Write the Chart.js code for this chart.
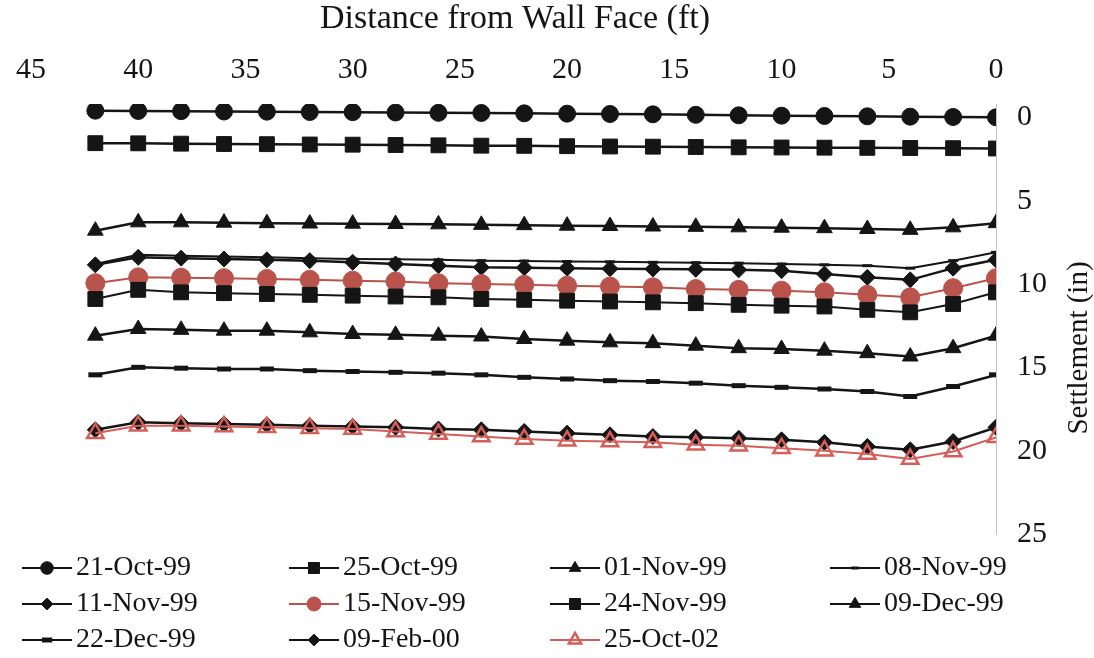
<!DOCTYPE html>
<html>
<head>
<meta charset="utf-8">
<script src="https://cdn.jsdelivr.net/npm/chart.js@4.4.1/dist/chart.umd.min.js"></script>
<style>
  html, body { margin: 0; padding: 0; background: #fff; }
  #wrap { width: 1094px; height: 658px; }
</style>
</head>
<body>
<div id="wrap"><canvas id="settlementChart" width="1094" height="658"></canvas></div>
<script>
// Settlement profiles behind the wall face, one line per survey date
const distance = [42, 40, 38, 36, 34, 32, 30, 28, 26, 24, 22, 20, 18, 16, 14, 12, 10, 8, 6, 4, 2, 0];
const surveyDates = ['21-Oct-99', '25-Oct-99', '01-Nov-99', '08-Nov-99', '11-Nov-99', '15-Nov-99',
                     '24-Nov-99', '09-Dec-99', '22-Dec-99', '09-Feb-00', '25-Oct-02'];

const oct21_99 = [-0.4, -0.38, -0.37, -0.35, -0.34, -0.32, -0.31, -0.29, -0.27, -0.26, -0.24, -0.22, -0.2, -0.18, -0.15, -0.12, -0.1, -0.08, -0.06, -0.04, -0.02, 0];
const oct25_99 = [1.55, 1.56, 1.58, 1.6, 1.61, 1.63, 1.64, 1.66, 1.68, 1.7, 1.71, 1.73, 1.75, 1.76, 1.78, 1.8, 1.81, 1.82, 1.83, 1.84, 1.85, 1.87];
const nov01_99 = [6.8, 6.3, 6.3, 6.32, 6.35, 6.37, 6.38, 6.4, 6.42, 6.45, 6.47, 6.5, 6.52, 6.55, 6.57, 6.6, 6.62, 6.65, 6.7, 6.75, 6.6, 6.35];
const nov08_99 = [8.8, 8.25, 8.3, 8.35, 8.4, 8.45, 8.5, 8.52, 8.55, 8.6, 8.62, 8.65, 8.67, 8.7, 8.72, 8.75, 8.8, 8.85, 8.9, 9.05, 8.6, 8.1];
const nov11_99 = [8.85, 8.4, 8.45, 8.5, 8.55, 8.6, 8.7, 8.8, 8.9, 9.0, 9.02, 9.05, 9.08, 9.1, 9.12, 9.15, 9.2, 9.4, 9.6, 9.75, 9.05, 8.55];
const nov15_99 = [9.95, 9.6, 9.62, 9.65, 9.7, 9.75, 9.8, 9.85, 9.95, 10.0, 10.05, 10.1, 10.15, 10.2, 10.3, 10.35, 10.4, 10.5, 10.65, 10.8, 10.25, 9.65];
const nov24_99 = [10.9, 10.35, 10.5, 10.55, 10.6, 10.65, 10.7, 10.75, 10.8, 10.9, 10.95, 11.0, 11.05, 11.1, 11.15, 11.25, 11.3, 11.35, 11.55, 11.7, 11.2, 10.5];
const dec09_99 = [13.1, 12.7, 12.75, 12.8, 12.8, 12.9, 13.0, 13.05, 13.1, 13.15, 13.3, 13.4, 13.5, 13.55, 13.7, 13.85, 13.9, 14.0, 14.15, 14.35, 13.85, 13.1];
const dec22_99 = [15.45, 15.0, 15.05, 15.1, 15.1, 15.2, 15.25, 15.3, 15.35, 15.45, 15.6, 15.7, 15.8, 15.85, 15.95, 16.1, 16.2, 16.3, 16.45, 16.75, 16.15, 15.45];
const feb09_00 = [18.75, 18.3, 18.35, 18.4, 18.45, 18.5, 18.55, 18.6, 18.7, 18.75, 18.85, 18.95, 19.05, 19.15, 19.2, 19.25, 19.35, 19.5, 19.75, 19.95, 19.45, 18.6];
const oct25_02 = [18.95, 18.5, 18.5, 18.55, 18.6, 18.65, 18.7, 18.85, 19.0, 19.15, 19.3, 19.4, 19.45, 19.5, 19.65, 19.7, 19.85, 20.0, 20.2, 20.5, 20.05, 19.2];

const settlementTicks = [0, 5, 10, 15, 20, 25];

const seriesValues = [oct21_99, oct25_99, nov01_99, nov08_99, nov11_99, nov15_99,
                      nov24_99, dec09_99, dec22_99, feb09_00, oct25_02];

const BLACK = '#151515';
const RED = '#b9534c';
const RED_OPEN = '#d45e58';
const FONT = '"Liberation Serif", "Times New Roman", serif';

// marker look for each date, same order as surveyDates
const markers = [
  { style: 'circle',   r: 8.5, line: BLACK, fill: BLACK, bw: 1, lw: 2.5 },
  { style: 'rect',     r: 10.5, line: BLACK, fill: BLACK, bw: 1, lw: 2.5 },
  { style: 'triangle', r: 9,   line: BLACK, fill: BLACK, bw: 1, lw: 2.5 },
  { style: 'line',     r: 5,   line: BLACK, fill: BLACK, bw: 3, lw: 2 },
  { style: 'rectRot',  r: 8,   line: BLACK, fill: BLACK, bw: 1, lw: 2.5 },
  { style: 'circle',   r: 9.5, line: RED,   fill: RED,   bw: 1, lw: 2 },
  { style: 'rect',     r: 10.5, line: BLACK, fill: BLACK, bw: 1, lw: 2 },
  { style: 'triangle', r: 9,   line: BLACK, fill: BLACK, bw: 1, lw: 2.5 },
  { style: 'line',     r: 7,   line: BLACK, fill: BLACK, bw: 5, lw: 2.5 },
  { style: 'rectRot',  r: 8,   line: BLACK, fill: BLACK, bw: 1, lw: 2.5 },
  { style: 'triangle', r: 9.5, line: RED_OPEN, fill: 'rgba(255,255,255,0)', bw: 2.5, lw: 2 }
];

// later survey dates are drawn on top of earlier ones
const datasets = surveyDates.map((label, i) => ({
  label: label,
  data: distance.map((d, j) => ({ x: d, y: seriesValues[i][j] })),
  order: surveyDates.length - i,
  borderColor: markers[i].line,
  borderWidth: markers[i].lw,
  pointStyle: markers[i].style,
  pointRadius: markers[i].r,
  pointBackgroundColor: markers[i].fill,
  pointBorderColor: markers[i].line,
  pointBorderWidth: markers[i].bw,
  tension: 0
}));

// legend grid under the plot: line sample, marker and date
const legendCols = [22, 289, 550, 830];
const legendRows = [568, 604, 640];
const bottomLegend = {
  id: 'bottomLegend',
  afterDraw(chart) {
    const ctx = chart.ctx;
    surveyDates.forEach((label, i) => {
      const ds = chart.data.datasets[i];
      const x0 = legendCols[i % 4];
      const y = legendRows[Math.floor(i / 4)];
      ctx.save();
      ctx.strokeStyle = ds.borderColor;
      ctx.lineWidth = 2;
      ctx.beginPath();
      ctx.moveTo(x0, y);
      ctx.lineTo(x0 + 50, y);
      ctx.stroke();
      ctx.fillStyle = ds.pointBackgroundColor;
      ctx.strokeStyle = ds.pointBorderColor;
      ctx.lineWidth = ds.pointBorderWidth;
      Chart.helpers.drawPoint(ctx, {
        pointStyle: ds.pointStyle,
        radius: ds.pointRadius * 0.74,
        rotation: 0,
        borderWidth: ds.pointBorderWidth
      }, x0 + 25, y);
      ctx.fillStyle = BLACK;
      ctx.font = '28px ' + FONT;
      ctx.textAlign = 'left';
      ctx.textBaseline = 'middle';
      ctx.fillText(label, x0 + 54, y);
      ctx.restore();
    });
  }
};

// axis titles: x title above the top ticks, y title reading upward on the right
const axisTitles = {
  id: 'axisTitles',
  afterDraw(chart) {
    const ctx = chart.ctx;
    ctx.save();
    ctx.fillStyle = BLACK;
    ctx.textAlign = 'center';
    ctx.textBaseline = 'middle';
    ctx.font = '34px ' + FONT;
    ctx.fillText('Distance from Wall Face (ft)', 515, 19);
    ctx.font = '29px ' + FONT;
    ctx.translate(1079, 348);
    ctx.rotate(-Math.PI / 2);
    ctx.fillText('Settlement (in)', 0, 0);
    ctx.restore();
  }
};

new Chart(document.getElementById('settlementChart').getContext('2d'), {
  type: 'line',
  data: { datasets: datasets },
  options: {
    responsive: false,
    devicePixelRatio: 1,
    animation: false,
    layout: { padding: { left: 17, right: 0, top: 0, bottom: 124 } },
    plugins: {
      legend: { display: false },
      tooltip: { enabled: false }
    },
    scales: {
      x: {
        type: 'linear',
        position: 'top',
        reverse: true,
        min: 0,
        max: 45,
        ticks: { stepSize: 5, color: BLACK, font: { family: FONT, size: 30 }, padding: 16, maxRotation: 0 },
        grid: { display: false, drawTicks: false },
        border: { display: false },
        afterFit(scale) { scale.height = 104; }
      },
      y: {
        type: 'linear',
        position: 'right',
        reverse: true,
        min: -0.8,
        max: 25,
        afterBuildTicks(scale) { scale.ticks = settlementTicks.map(v => ({ value: v })); },
        ticks: { color: BLACK, font: { family: FONT, size: 30 }, padding: 21 },
        grid: { display: false, drawTicks: false },
        border: { display: true, color: '#c4c4c4', width: 1, dash: [6, 5] },
        afterFit(scale) { scale.width = 98; }
      }
    }
  },
  plugins: [bottomLegend, axisTitles]
});
</script>
</body>
</html>
